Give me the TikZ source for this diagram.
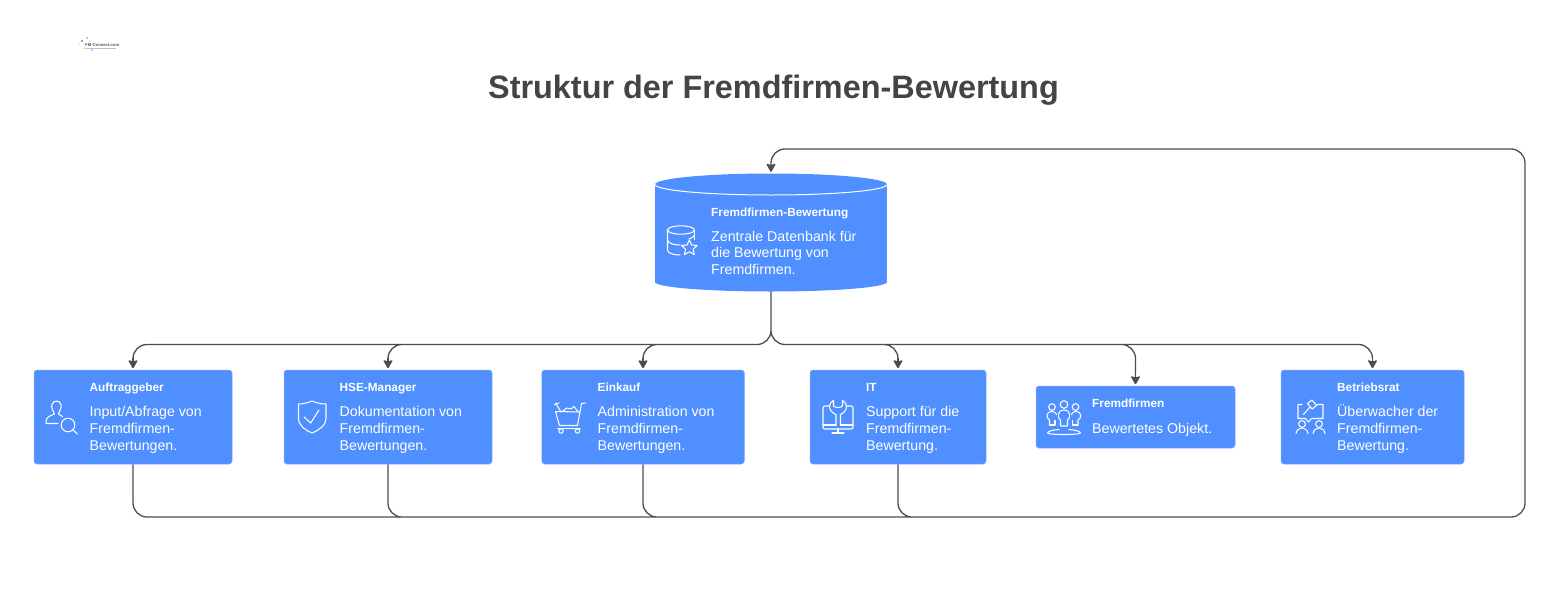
\documentclass[tikz,border=0pt]{standalone}
\usepackage{fontspec}
\setmainfont{Liberation Sans}
\usetikzlibrary{arrows.meta}
\definecolor{boxblue}{HTML}{4F8FFF}
\definecolor{linegrey}{HTML}{4D4D4D}
\definecolor{titlegrey}{HTML}{444444}
\tikzset{
  x=1pt,y=-1pt,
  card/.style={fill=boxblue,draw=boxblue!75!white,line width=0.5pt,rounded corners=3pt,inner sep=0pt,minimum height=94pt},
  head/.style={anchor=north west,inner sep=0pt,text=white,font=\fontsize{11.8}{14}\selectfont\bfseries},
  body/.style={anchor=north west,inner sep=0pt,text=white,align=left,font=\fontsize{14.2}{16.6}\selectfont},
  conn/.style={draw=linegrey,line width=1.3pt,rounded corners=14pt},
  arrowconn/.style={conn,-{Stealth[length=9pt,width=10pt,inset=1.5pt,round]},shorten >=1.5pt},
  ico/.style={draw=white,line width=1.05pt,line cap=round,line join=round,fill=none,rounded corners=0pt},
}
\newcommand{\fs}{\rule{0pt}{13pt}}
\begin{document}
\begin{tikzpicture}
\useasboundingbox (0,0) rectangle (1558,613);
\fill[white] (0,0) rectangle (1558,613);

% logo
\fill[violet!60] (82,41) circle (1.2);
\fill[blue!40] (87,38) circle (1);
\fill[yellow!70] (83,48.5) circle (1);
\fill[cyan!60] (92,50) circle (1.2);
\fill[black!12] (79,44) circle (1);
\fill[black!12] (90,41) circle (1);
\node[inner sep=0pt,anchor=west,font=\fontsize{4.2}{5}\selectfont\bfseries,text=black!65] (logo) at (85,45.3) {FM-Connect.com};
\draw[black!25,line width=0.8pt] (85,48.5) -- (116,48.5);

\node[inner sep=0pt,text=titlegrey,font=\fontsize{32.4}{36}\selectfont\bfseries] (title) at (773.5,90) {Struktur der Fremdfirmen-Bewertung};

% database
\node[inner sep=0pt,minimum width=232pt,minimum height=118pt] (db) at (771,232.5) {};
\fill[boxblue] (655,184.5) rectangle (887,282);
\fill[boxblue] (771,184.5) ellipse[x radius=116,y radius=11];
\fill[boxblue] (771,282) ellipse[x radius=116,y radius=9.5];
\draw[white,line width=1pt] (655,184.5) arc[x radius=116,y radius=10.5,start angle=180,end angle=0];

% cards
\node[card,minimum width=198pt] (a) at (133,417) {};
\node[card,minimum width=208pt] (h) at (388,417) {};
\node[card,minimum width=202.5pt] (e) at (643,417) {};
\node[card,minimum width=176pt] (i) at (898,417) {};
\node[card,minimum width=199pt,minimum height=62pt] (f) at (1135.5,417) {};
\node[card,minimum width=183pt] (b) at (1372.5,417) {};

% connectors
\coordinate (bus) at (771,344.5);
\coordinate (lowright) at (1525,517);
\coordinate (upright) at (1525,149);
\coordinate (merge) at (1400,517);
\draw[conn] (db.south) -- (bus) -| ([yshift=11.5pt]a.north)
  (db.south) -- (bus) -| ([yshift=11.5pt]h.north)
  (db.south) -- (bus) -| ([yshift=11.5pt]e.north)
  (db.south) -- (bus) -| ([yshift=11.5pt]i.north)
  (db.south) -- (bus) -| ([yshift=11.5pt]f.north)
  (db.south) -- (bus) -| ([yshift=11.5pt]b.north);
\foreach \t in {a,h,e,i,f,b}{\draw[arrowconn] ([yshift=11.5pt]\t.north) -- (\t.north);}
\draw[arrowconn] (h.south) |- (merge) (e.south) |- (merge) (i.south) |- (merge)
  (a.south) |- (lowright) -- (upright) -| (db.north);

% texts
\node[head] (t0) at (711,208) {Fremdfirmen-Bewertung};
\node[body] (x0) at (711,228) {\fs Zentrale Datenbank für\\die Bewertung von\\Fremdfirmen.};
\node[head] (t1) at (89.5,383) {Auftraggeber};
\node[body] (x1) at (89.5,403.7) {\fs Input/Abfrage von\\Fremdfirmen-\\Bewertungen.};
\node[head] (t2) at (339.5,383) {HSE-Manager};
\node[body] (x2) at (339.5,403.7) {\fs Dokumentation von\\Fremdfirmen-\\Bewertungen.};
\node[head] (t3) at (597.5,383) {Einkauf};
\node[body] (x3) at (597.5,403.7) {\fs Administration von\\Fremdfirmen-\\Bewertungen.};
\node[head] (t4) at (866,383) {IT};
\node[body] (x4) at (866,403.7) {\fs Support für die\\Fremdfirmen-\\Bewertung.};
\node[head] (t5) at (1092,399) {Fremdfirmen};
\node[body] (x5) at (1092,420) {\fs Bewertetes Objekt.};
\node[head] (t6) at (1337,383) {Betriebsrat};
\node[body] (x6) at (1337,403.7) {\fs Überwacher der\\Fremdfirmen-\\Bewertung.};

% icon: database with star
\begin{scope}[shift={(660,220)},ico]
\draw (21,10) ellipse[x radius=13.5,y radius=4.2];
\draw (7.5,10) -- (7.5,30) .. controls (7.5,33) and (13,35) .. (20,35);
\draw (34.5,10) -- (34.5,19.5);
\draw (7.5,20) .. controls (8,23.5) and (14,25) .. (20,25);
\draw (34.5,15) .. controls (33.5,17) and (31.5,18.5) .. (29,19);
\draw (29.3,20) -- (31.6,25) -- (37.2,25.5) -- (33,29.3) -- (34.3,34.6) -- (29.3,31.8) -- (24.3,34.6) -- (25.6,29.3) -- (21.4,25.5) -- (27,25) -- cycle;
\end{scope}
% icon: user with magnifier
\begin{scope}[shift={(40,396)},ico]
\draw (18,27.5) -- (6,27.5) .. controls (5,22) and (9,20) .. (14.5,18)
  .. controls (12.5,14) and (11,11) .. (12,8.5) .. controls (13,4) and (20,4) .. (21,8.5)
  .. controls (22,11) and (20,14) .. (18.5,18) .. controls (20,19) and (22,20) .. (23,21);
\draw (28,29) circle (6.8);
\draw (33,34) -- (37.5,38);
\end{scope}
% icon: shield
\begin{scope}[shift={(290,396)},ico]
\draw (22,5) .. controls (16,7.5) and (12,8) .. (8.5,8) -- (8.5,22) .. controls (8.5,30) and (16,34.5) .. (22,37)
  .. controls (28,34.5) and (36,30) .. (36,22) -- (36,8) .. controls (32,8) and (28,7.5) .. (22,5) -- cycle;
\draw (14,21) -- (20.7,27) -- (29,14);
\end{scope}
% icon: cart
\begin{scope}[shift={(548,396)},ico]
\draw (37.5,7) -- (33.5,7.5) -- (29.5,29.5) -- (11.5,29.5) -- (7.5,15.5) -- (32,16);
\draw (6.5,9) -- (8,7.5) -- (13,16);
\draw (8,7.5) -- (11,7);
\draw (14,15.5) -- (19,12) -- (23,13) -- (26,10.5) -- (30,15.5);
\draw (9.5,32.5) -- (32,32.5);
\draw (13,35) circle (2.2);
\draw (29.5,35) circle (2.2);
\end{scope}
% icon: monitor with wrench
\begin{scope}[shift={(816,396)},ico]
\draw (13,10) -- (9,10) .. controls (7.5,10) and (7,11) .. (7,12) -- (7,31) .. controls (7,32.5) and (8,33) .. (9,33) -- (35,33) .. controls (36.5,33) and (37,32.5) .. (37,31) -- (37,12) .. controls (37,11) and (36.5,10) .. (35,10) -- (31.5,10);
\draw (7,29) -- (20,29) (24.5,29) -- (37,29);
\draw (22,33) -- (22,36.5);
\draw (16,37) -- (28,37);
\draw (20,29) -- (20,18.5) .. controls (16,17) and (13.5,14) .. (13.5,10.5) .. controls (13.5,8) and (15,5.5) .. (17.5,4.5)
 -- (17.5,10) .. controls (19,12) and (25,12) .. (26.5,10) -- (26.5,4.5) .. controls (29,5.5) and (30.5,8) .. (30.5,10.5)
 .. controls (30.5,14) and (28,17) .. (24.5,18.5) -- (24.5,29);
\end{scope}
% icon: people
\begin{scope}[shift={(1042,396)},ico]
\draw (22,8.5) circle (3.8);
\draw (10,11) circle (3.3);
\draw (33.5,11) circle (3.3);
\draw (18.5,30) -- (18.5,24) .. controls (15,22) and (15,14) .. (22,14) .. controls (29,14) and (29,22) .. (25.5,24) -- (25.5,30) -- cycle;
\draw (7.5,29) -- (7.5,24) .. controls (4,22) and (3.5,15.5) .. (10,15.5) .. controls (13,15.5) and (14,17) .. (14.5,18.5);
\draw (13,24.5) -- (13,29) -- (7.5,29);
\draw (36,29) -- (36,24) .. controls (40,22) and (40,15.5) .. (33.5,15.5) .. controls (31,15.5) and (30,17) .. (29.5,18.5);
\draw (30.5,24.5) -- (30.5,29) -- (36,29);
\draw (17,33.5) .. controls (10,34) and (5.5,35.5) .. (5.5,37) .. controls (5.5,39) and (38.5,39) .. (38.5,37) .. controls (38.5,35.5) and (34,34) .. (27,33.5);
\end{scope}
% icon: works council
\begin{scope}[shift={(1288,396)},ico]
\draw (14,8.5) -- (10,8.5) -- (10,22.5) -- (17.5,22.5) -- (20.5,26) -- (23.5,22.5) -- (35,22.5) -- (35,8.5) -- (29,8.5);
\draw (19.5,7.5) -- (24,4) -- (28.5,9.5) -- (24,13) -- cycle;
\draw (22,11) -- (15.5,18.5);
\draw (14,28) circle (3.4);
\draw (31,28) circle (3.4);
\draw (8,37.5) .. controls (8.5,34) and (11,32) .. (14,32) .. controls (17,32) and (19.5,34) .. (20,37.5);
\draw (25,37.5) .. controls (25.5,34) and (28,32) .. (31,32) .. controls (34,32) and (36.5,34) .. (37,37.5);
\end{scope}
\end{tikzpicture}
\end{document}
